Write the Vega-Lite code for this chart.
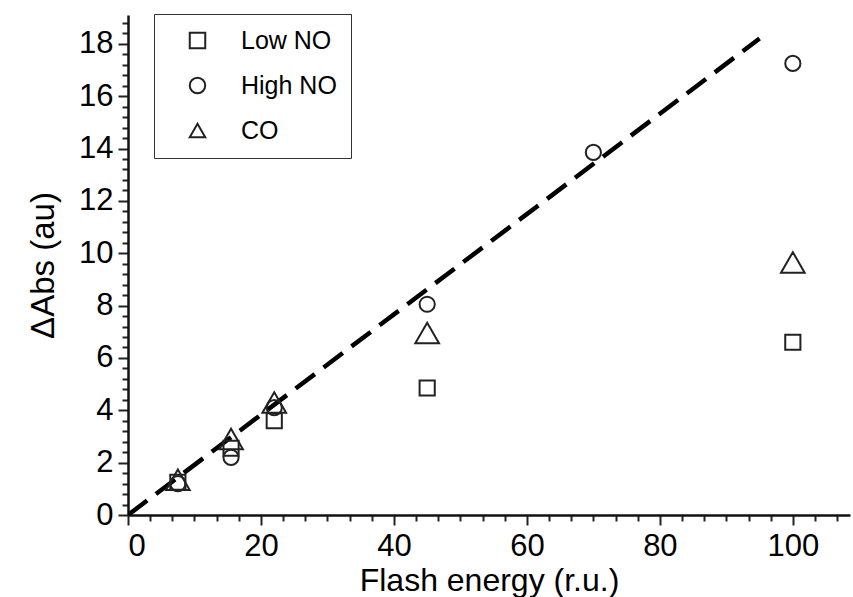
{
  "$schema": "https://vega.github.io/schema/vega-lite/v6.json",
  "width": 722,
  "height": 500,
  "autosize": "none",
  "padding": {"left": 128, "top": 15, "right": 3, "bottom": 82},
  "background": "white",
  "config": {
    "view": {"stroke": null},
    "font": "Liberation Sans",
    "axis": {"grid": false, "domainColor": "#111", "domainWidth": 2.5, "tickColor": "#222", "tickWidth": 2, "labelColor": "#000", "titleColor": "#000", "labelFont": "Liberation Sans", "titleFont": "Liberation Sans", "titleFontWeight": "normal", "labelOverlap": false}
  },
  "datasets": {
    "pts": [
      {"energy": 7.5, "abs": 1.25, "series": "Low NO"},
      {"energy": 15.5, "abs": 2.55, "series": "Low NO"},
      {"energy": 22, "abs": 3.6, "series": "Low NO"},
      {"energy": 45, "abs": 4.85, "series": "Low NO"},
      {"energy": 100, "abs": 6.6, "series": "Low NO"},
      {"energy": 7.5, "abs": 1.2, "series": "High NO"},
      {"energy": 15.5, "abs": 2.2, "series": "High NO"},
      {"energy": 22, "abs": 4.1, "series": "High NO"},
      {"energy": 45, "abs": 8.05, "series": "High NO"},
      {"energy": 70, "abs": 13.85, "series": "High NO"},
      {"energy": 100, "abs": 17.25, "series": "High NO"},
      {"energy": 7.5, "abs": 1.35, "series": "CO"},
      {"energy": 15.5, "abs": 2.9, "series": "CO"},
      {"energy": 22, "abs": 4.3, "series": "CO"},
      {"energy": 45, "abs": 6.95, "series": "CO"},
      {"energy": 100, "abs": 9.65, "series": "CO"}
    ],
    "fit": [
      {"energy": 0, "abs": 0},
      {"energy": 95, "abs": 18.2}
    ]
  },
  "encoding": {
    "x": {"field": "energy", "type": "quantitative", "scale": {"domain": [0, 108.6], "nice": false, "zero": false},
      "axis": {
        "title": "Flash energy (r.u.)", "titleFontSize": 32, "titlePadding": 4,
        "labelFontSize": 31, "labelPadding": 6, "labelOverlap": false,
        "values": [0, 3.333, 6.667, 10, 13.333, 16.667, 20, 23.333, 26.667, 30, 33.333, 36.667, 40, 43.333, 46.667, 50, 53.333, 56.667, 60, 63.333, 66.667, 70, 73.333, 76.667, 80, 83.333, 86.667, 90, 93.333, 96.667, 100, 103.333, 106.667],
        "labelExpr": "datum.value % 20 === 0 ? format(datum.value, 'd') : ''",
        "tickSize": {"condition": {"test": "datum.value % 20 === 0", "value": 10}, "value": 6}
      }},
    "y": {"field": "abs", "type": "quantitative", "scale": {"domain": [0, 19.1], "nice": false, "zero": false},
      "axis": {
        "title": "ΔAbs (au)", "titleFontSize": 33, "titlePadding": 18,
        "labelFontSize": 31, "labelPadding": 5, "labelOverlap": false,
        "values": [0, 0.4, 0.8, 1.2, 1.6, 2, 2.4, 2.8, 3.2, 3.6, 4, 4.4, 4.8, 5.2, 5.6, 6, 6.4, 6.8, 7.2, 7.6, 8, 8.4, 8.8, 9.2, 9.6, 10, 10.4, 10.8, 11.2, 11.6, 12, 12.4, 12.8, 13.2, 13.6, 14, 14.4, 14.8, 15.2, 15.6, 16, 16.4, 16.8, 17.2, 17.6, 18, 18.4, 18.8],
        "labelExpr": "datum.value % 2 === 0 ? format(datum.value, 'd') : ''",
        "tickSize": {"condition": {"test": "datum.value % 2 === 0", "value": 10}, "value": 6}
      }}
  },
  "layer": [
    {
      "data": {"name": "fit"},
      "mark": {"type": "line", "color": "#000", "strokeWidth": 4.5, "strokeDash": [24, 11], "clip": true}
    },
    {
      "data": {"name": "pts"},
      "mark": {"type": "point", "filled": false, "strokeWidth": 2, "color": "#222", "opacity": 1},
      "encoding": {
        "shape": {"field": "series", "type": "nominal",
          "scale": {"domain": ["Low NO", "High NO", "CO"], "range": ["square", "circle", "triangle-up"]},
          "legend": {
            "title": null, "orient": "none", "legendX": 26, "legendY": -1,
            "strokeColor": "#333", "padding": 14, "symbolOffset": 17, "labelOffset": 31,
            "labelFontSize": 25, "labelFont": "Liberation Sans", "labelColor": "#000",
            "rowPadding": 19, "symbolStrokeColor": "#222", "symbolStrokeWidth": 2, "symbolFillColor": "transparent", "symbolSize": 240, "symbolOpacity": 1,
            "encode": {"symbols": {"update": {"size": {"signal": "datum.value === 'CO' ? 520 : 240"}}}}
          }},
        "size": {"condition": {"test": "datum.series === 'CO'", "value": 560}, "value": 230}
      }
    }
  ]
}
